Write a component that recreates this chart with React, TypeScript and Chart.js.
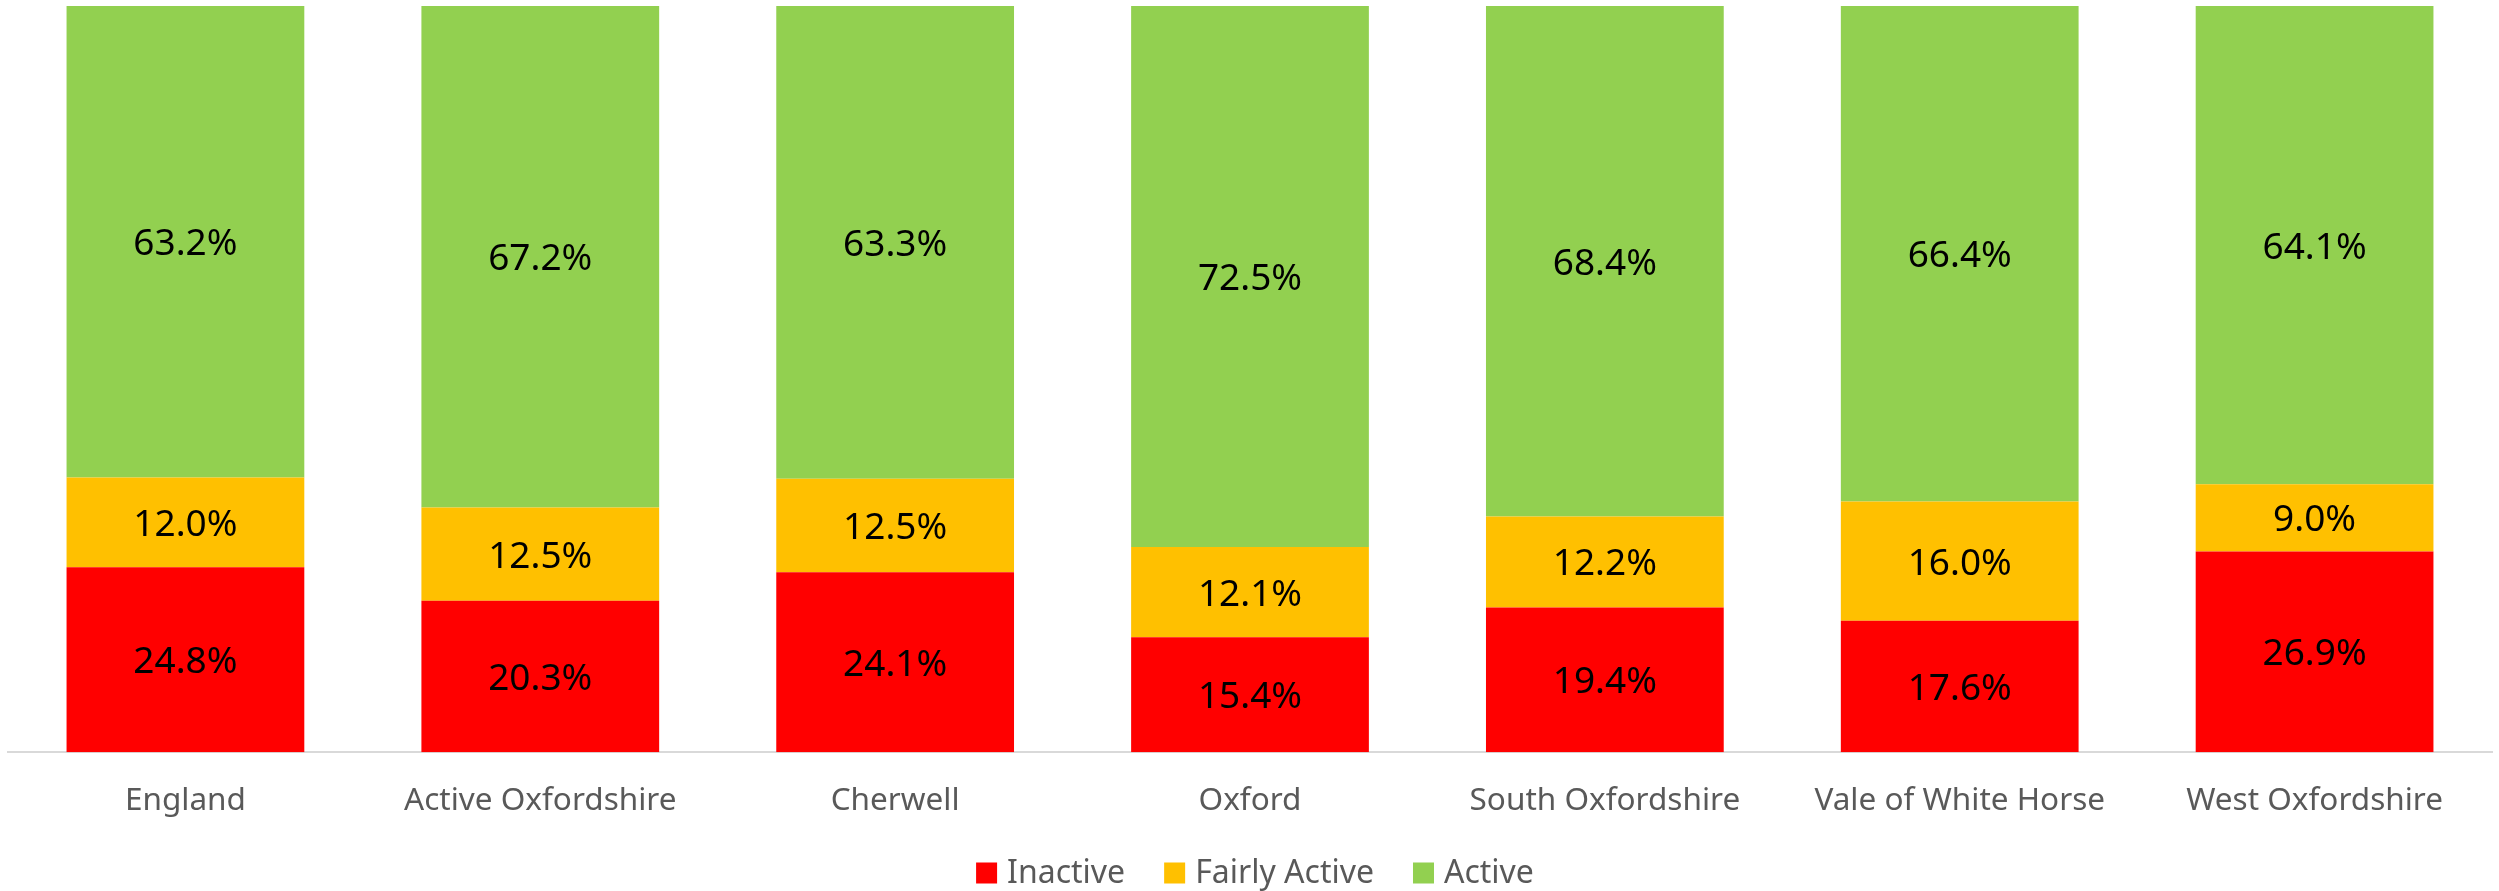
import React, { useEffect, useRef } from "react";
import { Chart, registerables } from "chart.js";

Chart.register(...registerables);

const categories = [
  "England",
  "Active Oxfordshire",
  "Cherwell",
  "Oxford",
  "South Oxfordshire",
  "Vale of White Horse",
  "West Oxfordshire",
];
const inactive = [24.8, 20.3, 24.1, 15.4, 19.4, 17.6, 26.9];
const fairlyActive = [12.0, 12.5, 12.5, 12.1, 12.2, 16.0, 9.0];
const active = [63.2, 67.2, 63.3, 72.5, 68.4, 66.4, 64.1];

const seriesNames = ["Inactive", "Fairly Active", "Active"];
const seriesColors = ["#FF0000", "#FFC000", "#92D050"];

const FONT = "'Noto Sans', 'Open Sans', sans-serif";

// 100% stacked: normalise each category so the column reaches 100
const rawSeries = [inactive, fairlyActive, active];
const totals = categories.map((_, i) => rawSeries.reduce((s, arr) => s + arr[i], 0));
const normalised = rawSeries.map((arr) => arr.map((v, i) => (v / totals[i]) * 100));

const labelPlugin = {
  id: "segmentLabels",
  afterDatasetsDraw(chart: any) {
    const ctx = chart.ctx;
    ctx.save();
    ctx.font = `37px ${FONT}`;
    ctx.fillStyle = "#000000";
    ctx.textAlign = "center";
    ctx.textBaseline = "middle";
    chart.data.datasets.forEach((ds: any, di: number) => {
      const meta = chart.getDatasetMeta(di);
      if (meta.hidden) return;
      meta.data.forEach((bar: any, i: number) => {
        const v = rawSeries[di][i];
        const yMid = (bar.y + bar.base) / 2;
        ctx.fillText(v.toFixed(1) + "%", bar.x, yMid + 3);
      });
    });
    ctx.restore();
  },
};

const legendPlugin = {
  id: "customLegend",
  afterDraw(chart: any) {
    const ctx = chart.ctx;
    ctx.save();
    ctx.font = `32px ${FONT}`;
    ctx.textBaseline = "middle";
    ctx.textAlign = "left";
    const box = 21;
    const gapText = 10;
    const gapItem = 39;
    const widths = seriesNames.map((n) => ctx.measureText(n).width);
    const total =
      widths.reduce((a, b) => a + b, 0) + seriesNames.length * (box + gapText) + (seriesNames.length - 1) * gapItem;
    const area = chart.chartArea;
    let x = (area.left + area.right) / 2 - total / 2 + 5;
    const yc = chart.height - 18;
    seriesNames.forEach((n, i) => {
      ctx.fillStyle = seriesColors[i];
      ctx.fillRect(x, yc - box / 2, box, box);
      x += box + gapText;
      ctx.fillStyle = "#595959";
      ctx.fillText(n, x, yc + 1);
      x += widths[i] + gapItem;
    });
    ctx.restore();
  },
};

export default function App() {
  const ref = useRef<HTMLCanvasElement | null>(null);
  useEffect(() => {
    if (!ref.current) return;
    const chart = new Chart(ref.current, {
      type: "bar",
      data: {
        labels: categories,
        datasets: seriesNames.map((name, i) => ({
          label: name,
          data: normalised[i],
          backgroundColor: seriesColors[i],
          borderWidth: 0,
        })),
      },
      options: {
        responsive: false,
        animation: false,
        layout: { padding: { left: 8, right: 7, top: 6, bottom: 41 } },
        datasets: { bar: { categoryPercentage: 1, barPercentage: 0.67 } },
        scales: {
          x: {
            stacked: true,
            grid: { display: false, drawTicks: false },
            border: { display: true, color: "#d9d9d9", width: 2 },
            ticks: { color: "#595959", font: { family: FONT, size: 31.5 }, padding: 30 },
          },
          y: {
            stacked: true,
            display: false,
            min: 0,
            max: 100,
          },
        },
        plugins: {
          legend: { display: false },
          tooltip: { enabled: false },
        },
      },
      plugins: [labelPlugin, legendPlugin],
    });
    return () => chart.destroy();
  }, []);
  return (
    <div style={{ position: "fixed", left: 0, top: 0, width: 2499, height: 891, background: "#fff" }}>
      <canvas ref={ref} width={2499} height={891} style={{ display: "block" }} />
    </div>
  );
}
